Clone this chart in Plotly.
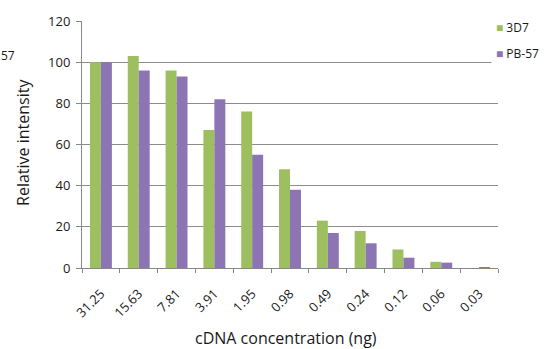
import plotly.graph_objects as go

categories = ["31.25", "15.63", "7.81", "3.91", "1.95", "0.98", "0.49", "0.24", "0.12", "0.06", "0.03"]
series_3d7 = [100, 103, 96, 67, 76, 48, 23, 18, 9, 3, 0]
series_pb57 = [100, 96, 93, 82, 55, 38, 17, 12, 5, 2.6, 0.4]
y_ticks = [0, 20, 40, 60, 80, 100, 120]
series_names = ["3D7", "PB-57"]
series_colors = ["#9EBF60", "#8D74B3"]

font_family = "Open Sans, Liberation Sans, sans-serif"
text_color = "#1a1a1a"

fig = go.Figure()
for name, vals, col in zip(series_names, [series_3d7, series_pb57], series_colors):
    fig.add_trace(go.Bar(x=categories, y=vals, name=name, showlegend=False,
                         marker=dict(color=col, line=dict(width=0))))

legend_anns = []
for i, (name, col) in enumerate(zip(series_names, series_colors)):
    legend_anns.append(dict(
        text=f"<span style='color:{col}'>■</span> {name}",
        xref="paper", yref="paper", x=0.982, y=0.975 - i * 0.105,
        xanchor="left", yanchor="middle", showarrow=False,
        bgcolor="white", borderpad=4,
        font=dict(size=12, color=text_color)))

fig.update_layout(
    width=547, height=349,
    margin=dict(l=82, r=49, t=21, b=81, autoexpand=False),
    paper_bgcolor="white", plot_bgcolor="white",
    barmode="group", bargap=0.42, bargroupgap=0,
    font=dict(family=font_family, size=13, color=text_color),
    showlegend=False,
    xaxis=dict(
        type="category", tickangle=-45, tickson="boundaries", automargin=False,
        ticks="outside", ticklen=4, tickcolor="#888888", ticklabelstandoff=12,
        showline=True, linecolor="#888888", linewidth=1,
        showgrid=False, tickfont=dict(size=13, color=text_color),
    ),
    yaxis=dict(
        range=[0, 120], tickvals=y_ticks, ticks="outside", ticklen=5, tickcolor="#888888",
        ticklabelstandoff=3,
        showline=True, linecolor="#888888", linewidth=1, automargin=False,
        showgrid=True, gridcolor="#8c8c8c", gridwidth=1, zeroline=False,
        tickfont=dict(size=13, color=text_color),
    ),
    annotations=[
        dict(text="cDNA concentration (ng)", xref="paper", yref="paper", x=0.49, y=-0.283,
             xanchor="center", yanchor="middle", showarrow=False,
             font=dict(size=16, color=text_color)),
        dict(text="Relative intensity", xref="paper", yref="paper", x=-0.142, y=0.51,
             xanchor="center", yanchor="middle", showarrow=False, textangle=-90,
             font=dict(size=16, color=text_color)),
        dict(text="57", xref="paper", yref="paper", x=-0.199, y=0.862,
             xanchor="left", yanchor="middle", showarrow=False,
             font=dict(size=12, color=text_color)),
    ] + legend_anns,
)

fig.write_html("out.html", config={"displayModeBar": False},
               post_script="document.body.style.margin='0';document.body.style.padding='0';")
